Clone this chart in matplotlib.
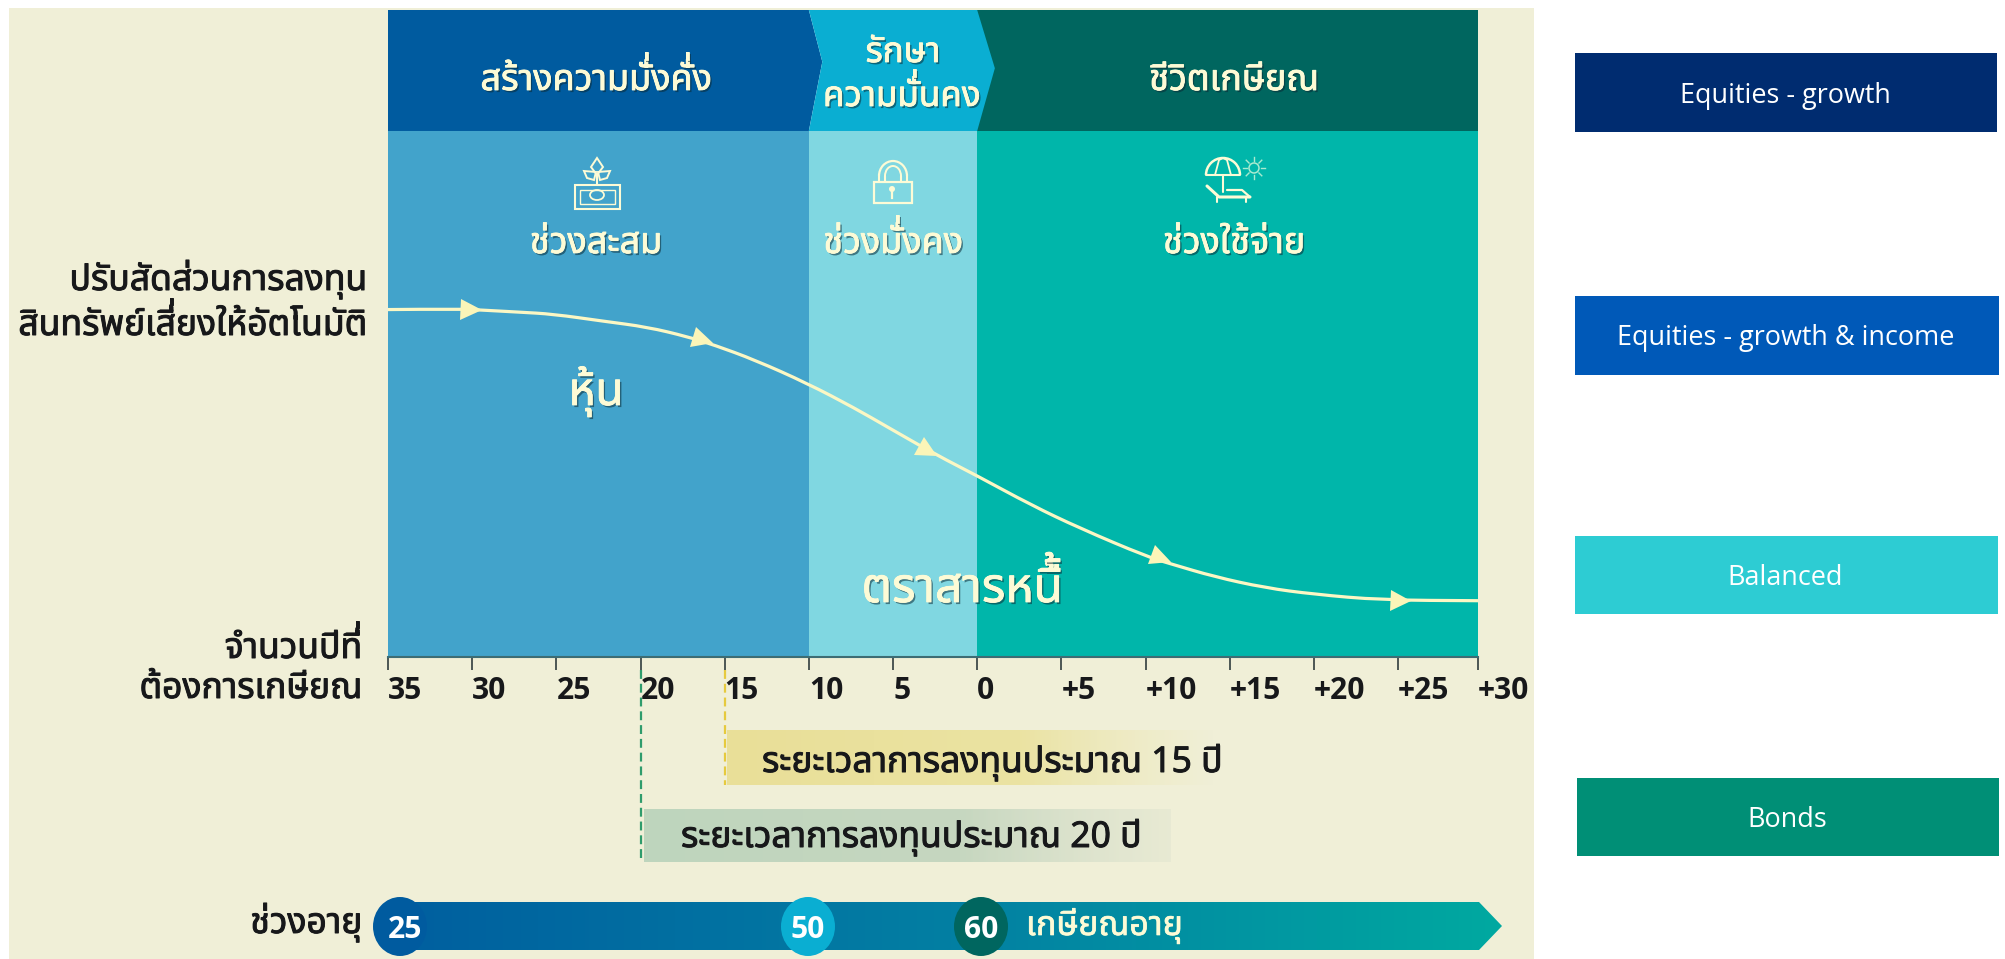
import numpy as np
import matplotlib
matplotlib.use("Agg")
import matplotlib.pyplot as plt
import matplotlib.patheffects as pe
from matplotlib import font_manager as fm
from matplotlib.colors import to_rgb
from matplotlib.ft2font import FT2Font, LoadFlags
from matplotlib.markers import MarkerStyle
from matplotlib.patches import Arc, Circle, Ellipse, PathPatch, Polygon, Rectangle
from matplotlib.path import Path
from matplotlib.textpath import TextPath
from matplotlib.transforms import Affine2D

THAI = ["Noto Sans Thai", "Loma", "DejaVu Sans"]
LATIN = ["Open Sans", "DejaVu Sans"]

# chart data
tick_years = [-35, -30, -25, -20, -15, -10, -5, 0, 5, 10, 15, 20, 25, 29.75]
tick_labels = ["35", "30", "25", "20", "15", "10", "5", "0", "+5", "+10", "+15", "+20", "+25", "+30"]

phase_edges = [-35, -10, 0, 29.75]
phase_names = ["สร้างความมั่งคั่ง", "รักษา", "ความมั่นคง", "ชีวิตเกษียณ"]
stage_names = ["ช่วงสะสม", "ช่วงมั่งคง", "ช่วงใช้จ่าย"]
header_colors = ["#005b9f", "#0aaed2", "#00665f"]
body_colors = ["#42a3cb", "#80d7e1", "#00b6aa"]

curve_years = [-35, -30.8, -29.3, -27.2, -25.2, -22.2, -19.6, -17.2, -15.6, -13.2, -10.1, -7.3,
               -5.3, -2.4, 0, 3.2, 6.1, 10.1, 11.5, 14.1, 17.1, 20, 24, 29.75]
curve_share = [53.7, 53.8, 53.6, 53.3, 53.0, 51.9, 51.0, 49.5, 48.2, 45.9, 42.3, 38.5,
               35.5, 31.2, 28.0, 23.5, 19.9, 15.5, 14.4, 12.4, 10.7, 9.7, 8.8, 8.7]
arrow_years = [-30.05, -16.3, -2.9, 10.9, 25.2]
arrow_share = [53.7, 49.0, 31.8, 15.3, 8.7]
arrow_angles = [0, -17, -30, -20, -2]

horizon_years = [-15, -20]
horizon_labels = ["ระยะเวลาการลงทุนประมาณ 15 ปี", "ระยะเวลาการลงทุนประมาณ 20 ปี"]
age_labels = ["25", "50", "60"]
age_colors = ["#005b9f", "#0aaed2", "#00665f"]
fund_names = ["Equities - growth", "Equities - growth & income", "Balanced", "Bonds"]
fund_colors = ["#002c70", "#0059b8", "#2dccd3", "#008f76"]

W, H = 2005, 959
CREAM = "#f0efd7"
PALE = "#fdfbd6"
INK = "#17181a"
TONE_MARKS = "\u0e48\u0e49\u0e4a\u0e4b"
UPPER_VOWELS = "\u0e31\u0e34\u0e35\u0e36\u0e37"


def pts(px):
    return px * 0.72


def pixel_axes(z):
    a = fig.add_axes([0, 0, 1, 1], zorder=z)
    a.set_xlim(0, W)
    a.set_ylim(H, 0)
    a.axis("off")
    a.patch.set_alpha(0)
    return a


def gradient_box(a, x0, x1, y0, y1, stops, clip=None):
    # stops: (position, colour, alpha)
    xs = np.linspace(0, 1, 256)
    pos = [s[0] for s in stops]
    img = np.zeros((1, 256, 4))
    for i in range(3):
        img[0, :, i] = np.interp(xs, pos, [to_rgb(s[1])[i] for s in stops])
    img[0, :, 3] = np.interp(xs, pos, [s[2] for s in stops])
    im = a.imshow(img, extent=(x0, x1, y1, y0), aspect="auto", zorder=2)
    if clip is not None:
        im.set_clip_path(clip)
    a.set_xlim(0, W)
    a.set_ylim(H, 0)


def ink_stroke(col, w=0.7):
    return [pe.withStroke(linewidth=w, foreground=col)]


thai_prop = fm.FontProperties(family="Noto Sans Thai")
thai_font = FT2Font(fm.findfont(thai_prop))


def thai_text(a, x, y, text, size, color, ha="center", effects=None, zorder=5):
    # matplotlib does no Thai shaping, so a tone mark on an upper vowel lands on
    # the vowel: the text keeps the mark, and its outline is drawn again higher up
    t = a.text(x, y, text, family=THAI, fontsize=pts(size), color=color, ha=ha, va="baseline",
               path_effects=effects, zorder=zorder)
    left = t.get_window_extent(fig.canvas.get_renderer()).x0
    thai_font.set_size(pts(size), 100)
    pen = 0
    for i, ch in enumerate(text):
        if ch in TONE_MARKS and text[i - 1] in UPPER_VOWELS:
            outline = TextPath((0, 0), ch, size=size, prop=thai_prop)
            place = Affine2D().scale(1, -1).translate(left + pen, y - 0.2 * size)
            a.add_patch(PathPatch(outline, fc=color, ec="none", transform=place + a.transData,
                                  path_effects=effects, zorder=zorder))
        g = thai_font.load_char(ord(ch), flags=LoadFlags.NO_HINTING)
        pen += g.linearHoriAdvance / 65536
    return t


fig = plt.figure(figsize=(W / 100, H / 100), dpi=100, facecolor="white")
back = pixel_axes(0)
front = pixel_axes(2)
ax = fig.add_axes([388 / W, 1 - 657 / H, (1478 - 388) / W, (657 - 10) / H], zorder=1)

back.add_patch(Rectangle((9, 8), 1525, 951, fc=CREAM, ec="none"))

# panel, scaled in years and share
ax.set_xlim(-35, 29.75)
ax.set_ylim(0, 100)
header_base = 81.3
for i in range(3):
    ax.axvspan(phase_edges[i], phase_edges[i + 1], ymin=0, ymax=header_base / 100, color=body_colors[i], lw=0)
ax.axvspan(phase_edges[2], phase_edges[3], ymin=header_base / 100, color=header_colors[2], lw=0)
ax.fill([-35, -10, -9.2, -10, -35], [100, 100, 92, header_base, header_base],
        color=header_colors[0], lw=0, zorder=2)
ax.fill([-10, 0, 1.05, 0, -10, -9.2], [100, 100, 91, header_base, header_base, 92],
        color=header_colors[1], lw=0, zorder=3)

# smooth line through the read points
verts = [(curve_years[0], curve_share[0])]
codes = [Path.MOVETO]
for i in range(1, len(curve_years) - 1):
    end_x = (curve_years[i] + curve_years[i + 1]) / 2
    end_y = (curve_share[i] + curve_share[i + 1]) / 2
    verts += [(curve_years[i], curve_share[i]), (end_x, end_y)]
    codes += [Path.CURVE3, Path.CURVE3]
verts.append((curve_years[-1], curve_share[-1]))
codes.append(Path.LINETO)
ax.add_patch(PathPatch(Path(verts, codes), fc="none", ec="#fbf7c4", lw=pts(3.2), zorder=4, capstyle="butt"))
for yr, val, ang in zip(arrow_years, arrow_share, arrow_angles):
    mk = MarkerStyle(">", transform=Affine2D().rotate_deg(ang))
    ax.plot([yr], [val], marker=mk, ms=pts(21), color="#fbf5b8", mew=0, zorder=5)

ax.set_xticks(tick_years, tick_labels, family=LATIN, fontsize=pts(30), fontweight="bold", color=INK)
for lab in ax.get_xticklabels():
    lab.set_ha("left")
ax.set_yticks([])
ax.tick_params(axis="x", length=pts(13), width=1.3, color="#3f4a4a", pad=4)
for s in ["top", "left", "right"]:
    ax.spines[s].set_visible(False)
ax.spines["bottom"].set_color("#3d6d74")
ax.spines["bottom"].set_linewidth(1.5)

horizon_bottoms = [-19.8, -31.4]
for yr, bottom, col in zip(horizon_years, horizon_bottoms, ["#e6ca3e", "#2f9c6c"]):
    ax.plot([yr, yr], [-2, bottom], color=col, lw=1.6, ls=(0, (4, 2.2)), clip_on=False, zorder=5)

# horizon bands
gradient_box(back, 727, 1215, 730, 785, [(0, "#e9df98", 1), (0.6, "#ebe3a2", 1), (1, "#ede8b5", 0)])
gradient_box(back, 644, 1171, 809, 862, [(0, "#bed5bd", 1), (0.6, "#c6d7c0", 1), (1, "#d6decb", 0.3)])
thai_text(back, 762, 772, horizon_labels[0], 35.5, INK, ha="left", effects=ink_stroke(INK))
thai_text(back, 681, 847, horizon_labels[1], 35.5, INK, ha="left", effects=ink_stroke(INK))

# age arrow
age_shape = Polygon([(400, 902), (1479, 902), (1502, 926), (1479, 950), (400, 950)], closed=True,
                    transform=back.transData, fc="none", ec="none")
back.add_patch(age_shape)
gradient_box(back, 400, 1502, 902, 950, [(0, "#005f9f", 1), (0.5, "#037fa3", 1), (1, "#00a9a0", 1)], clip=age_shape)
for label, col, cx in zip(age_labels, age_colors, [400, 808, 981]):
    back.add_patch(Ellipse((cx, 926.5), 54, 59, fc=col, ec="none", zorder=3))
    back.text(cx + 5 if label == "25" else cx, 938, label, family=LATIN, fontsize=pts(30), fontweight="bold",
              color="white", ha="center", va="baseline", zorder=4)
thai_text(back, 1026, 935, "เกษียณอายุ", 34, PALE, ha="left", effects=ink_stroke(PALE, 0.5))

# left labels
left_labels = [("ปรับสัดส่วนการลงทุน", 367, 290), ("สินทรัพย์เสี่ยงให้อัตโนมัติ", 367, 335),
               ("จำนวนปีที่", 362, 658), ("ต้องการเกษียณ", 362, 698), ("ช่วงอายุ", 362, 933)]
for text, x, y in left_labels:
    thai_text(back, x, y, text, 35.5, INK, ha="right", effects=ink_stroke(INK))

# right boxes
boxes = [(1575, 1997, 53, 132), (1575, 1999, 296, 375), (1575, 1998, 536, 614), (1577, 1999, 778, 856)]
for name, col, (x0, x1, y0, y1) in zip(fund_names, fund_colors, boxes):
    back.add_patch(Rectangle((x0, y0), x1 - x0, y1 - y0, fc=col, ec="none"))
    back.text((x0 + x1) / 2 - 1, (y0 + y1) / 2 + 3, name, family=LATIN, fontsize=pts(27), color="white",
              ha="center", va="center")

# cream text on panel
shadow = [pe.withSimplePatchShadow(offset=(1.3, -1.5), shadow_rgbFace="#0b2b36", alpha=0.55),
          pe.withStroke(linewidth=0.6, foreground=PALE)]
panel_texts = [
    (phase_names[0], 596, 90, 36), (phase_names[1], 903, 62, 35), (phase_names[2], 902, 106, 35),
    (phase_names[3], 1234, 90, 36), (stage_names[0], 596, 253, 36), (stage_names[1], 893, 253, 36),
    (stage_names[2], 1234, 253, 36), ("หุ้น", 596, 405, 46), ("ตราสารหนี้", 962, 602, 48),
]
for text, x, y, size in panel_texts:
    thai_text(front, x, y, text, size, PALE, effects=shadow)

# icons, no glyph for these
line = dict(color=PALE, lw=1.5, solid_capstyle="round")
front.add_patch(Rectangle((575, 185), 45, 24, fc="none", ec=PALE, lw=1.5))
front.add_patch(Rectangle((580, 190), 35, 14, fc="none", ec=PALE, lw=1))
front.add_patch(Ellipse((597, 195), 14, 10, fc="none", ec=PALE, lw=1.3))
front.plot([597, 597], [185, 174], **line)
front.add_patch(Polygon([(597, 158), (603, 167), (597, 175), (591, 167)], closed=True, fc="none", ec=PALE, lw=1.4))
front.add_patch(Polygon([(584, 171), (596, 172), (594, 180), (587, 178)], closed=True, fc="none", ec=PALE, lw=1.4))
front.add_patch(Polygon([(610, 171), (598, 172), (600, 180), (607, 178)], closed=True, fc="none", ec=PALE, lw=1.4))

front.add_patch(Rectangle((874, 182), 38, 21, fc="none", ec=PALE, lw=1.6))
front.add_patch(Arc((893, 176), 28, 30, theta1=180, theta2=360, ec=PALE, lw=1.6))
front.add_patch(Arc((893, 176), 16, 20, theta1=180, theta2=360, ec=PALE, lw=1.4))
for x in [879, 907, 885, 901]:
    front.plot([x, x], [176, 182], **line)
front.add_patch(Circle((892, 189), 3, fc=PALE, ec="none"))
front.plot([892, 892], [190, 198], color=PALE, lw=1.6)

front.add_patch(Arc((1223, 175), 34, 34, theta1=180, theta2=360, ec=PALE, lw=1.8))
front.plot([1206, 1240], [175, 175], **line)
front.plot([1215, 1219, 1223, 1227, 1231], [175, 160, 158, 160, 175], color=PALE, lw=1.3)
front.plot([1223, 1223], [175, 192], **line)
front.plot([1207, 1219, 1250], [186, 197, 197], color=PALE, lw=2.2, solid_capstyle="round")
front.plot([1227, 1242, 1250], [190, 190, 197], color=PALE, lw=1.6, solid_capstyle="round")
front.plot([1217, 1217], [197, 202], **line)
front.plot([1246, 1246], [197, 202], **line)
front.add_patch(Circle((1254, 168), 5, fc="none", ec="#a9ead0", lw=1.1))
for a in np.radians(np.arange(0, 360, 45)):
    front.plot([1254 + 7 * np.cos(a), 1254 + 11 * np.cos(a)], [168 + 7 * np.sin(a), 168 + 11 * np.sin(a)],
               color="#a9ead0", lw=1)

fig.savefig("out.png", dpi=100, facecolor="white")
